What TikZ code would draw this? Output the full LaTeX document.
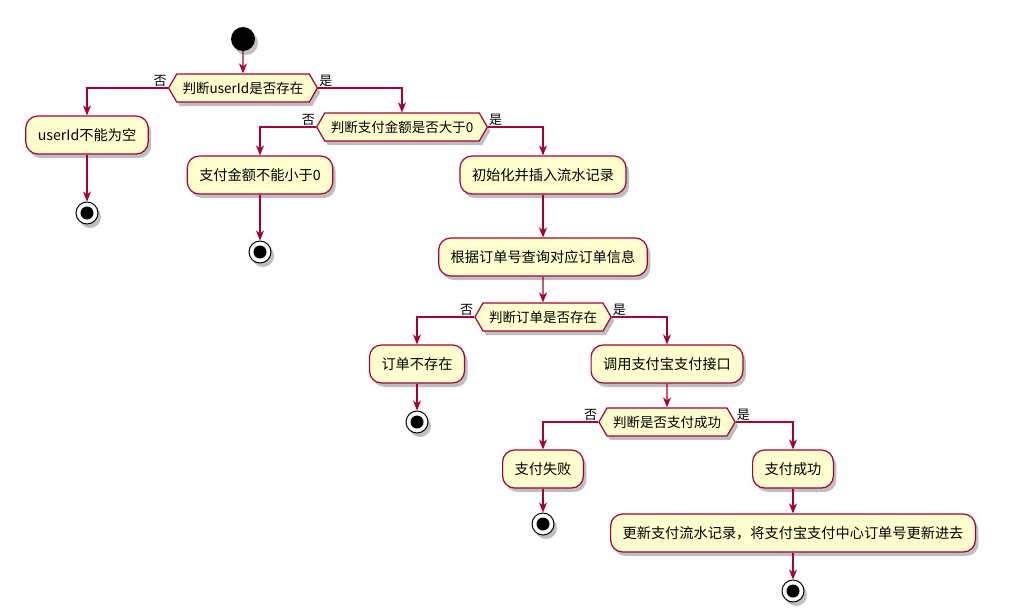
\documentclass[tikz,border=0pt]{standalone}
\usepackage{fontspec}
\setmainfont{Noto Sans CJK SC}
\usetikzlibrary{shapes.symbols,shadows,arrows.meta}
\definecolor{umlred}{HTML}{A80036}
\definecolor{umlfill}{HTML}{FEFECE}
\tikzstyle{shd}=[drop shadow={shadow xshift=3pt,shadow yshift=-4pt,opacity=.25,fill=black}]
\tikzstyle{act}=[rectangle,rounded corners=12pt,draw=umlred,fill=umlfill,line width=1.2pt,minimum height=38pt,inner xsep=12pt,font=\fontsize{14.2}{16}\selectfont,shd]
\tikzstyle{dec}=[signal,signal to=east and west,signal pointer angle=120,draw=umlred,fill=umlfill,line width=1.2pt,minimum height=28pt,inner xsep=6pt,inner ysep=2pt,font=\fontsize{13.5}{15}\selectfont,shd]
\tikzstyle{startnd}=[circle,fill=black,minimum size=24pt,inner sep=0pt,shd]
\tikzstyle{stopnd}=[circle,draw=black,fill=white,line width=1pt,minimum size=22pt,inner sep=0pt,shd,
  path picture={\fill[black] (path picture bounding box.center) circle (6.5pt);}]
\tikzstyle{flow}=[draw=umlred,line width=1.2pt,-{Stealth[length=10pt,width=8pt,inset=3pt]}]
\tikzstyle{lbl}=[font=\fontsize{13}{15}\selectfont,inner sep=1pt]

\begin{document}
\begin{tikzpicture}[x=1pt,y=-1pt]
\useasboundingbox (0,0) rectangle (1030,614);
\node[startnd] (init) at (243,39) {};
\node[dec] (d1) at (243,88) {判断userId是否存在};
\node[act] (a1) at (87,135) {userId不能为空};
\node[stopnd] (e1) at (87,213) {};
\node[dec] (d2) at (402,127) {判断支付金额是否大于0};
\node[act] (a2) at (260,175) {支付金额不能小于0};
\node[stopnd] (e2) at (260,252) {};
\node[act] (a3) at (543,175) {初始化并插入流水记录};
\node[act] (a4) at (543,257) {根据订单号查询对应订单信息};
\node[dec] (d3) at (543,317) {判断订单是否存在};
\node[act] (a5) at (417,364) {订单不存在};
\node[stopnd] (e3) at (417,422) {};
\node[act] (a6) at (667,364) {调用支付宝支付接口};
\node[dec] (d4) at (667,422) {判断是否支付成功};
\node[act] (a7) at (543,469) {支付失败};
\node[stopnd] (e4) at (543,524) {};
\node[act] (a8) at (793,469) {支付成功};
\node[act] (a9) at (793,533) {更新支付流水记录，将支付宝支付中心订单号更新进去};
\node[stopnd] (e5) at (793,591) {};
% branches: no to the left, yes to the right
\foreach \d/\l/\r in {d1/a1/d2,d2/a2/a3,d3/a5/a6,d4/a7/a8} {
  \draw[flow] (\d.west) -| (\l.north);
  \draw[flow] (\d.east) -| (\r.north);
  \node[lbl,anchor=south east] (no\d) at (\d.west) {否};
  \node[lbl,anchor=south west] (yes\d) at (\d.east) {是};
}
% straight flow
\foreach \a/\b in {init/d1,a1/e1,a2/e2,a3/a4,a4/d3,a5/e3,a6/d4,a7/e4,a8/a9,a9/e5}
  \draw[flow] (\a) -- (\b);
\end{tikzpicture}
\end{document}
